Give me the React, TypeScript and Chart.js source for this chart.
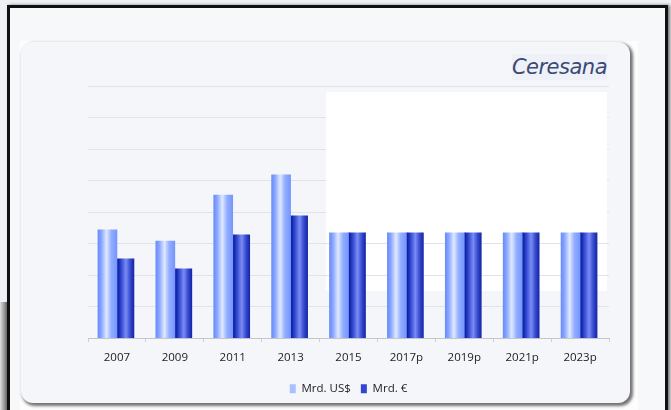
import React, { useEffect, useRef } from "react";
import { Chart, registerables } from "chart.js";

Chart.register(...registerables);

const categories = ["2007", "2009", "2011", "2013", "2015", "2017p", "2019p", "2021p", "2023p"];
const usdValues = [17.2, 15.4, 22.7, 25.9, 16.7, 16.7, 16.7, 16.7, 16.7];
const eurValues = [12.6, 11.0, 16.4, 19.4, 16.7, 16.7, 16.7, 16.7, 16.7];
const seriesLabels = ["Mrd. US$", "Mrd. €"];
const yMax = 40;
const yStep = 5;

const CAT_PCT = 0.68;
const USD_THICK = 19;
const EUR_THICK = 17;

const usdStops: [number, string][] = [
  [0, "#6689fb"],
  [0.2, "#89a6ff"],
  [0.47, "#dfe9ff"],
  [0.72, "#93aeff"],
  [1, "#7797ff"],
];
const eurStops: [number, string][] = [
  [0, "#0f24a8"],
  [0.22, "#3e54d8"],
  [0.45, "#7b8cf4"],
  [0.7, "#364bd0"],
  [1, "#0a1896"],
];

function barGradient(stops: [number, string][], thickness: number, side: number, fallback: string) {
  return (c: any) => {
    const chart = c.chart;
    const xs = chart.scales && chart.scales.x;
    if (!xs || c.type !== "data" || !isFinite(xs.width) || xs.width <= 0) return fallback;
    const center = xs.getPixelForValue(c.dataIndex);
    const catW = xs.width / categories.length;
    const slot = (catW * CAT_PCT) / 2;
    const cx = center + (side < 0 ? -slot / 2 : slot / 2);
    const g = chart.ctx.createLinearGradient(cx - thickness / 2, 0, cx + thickness / 2, 0);
    stops.forEach(([o, col]) => g.addColorStop(o, col));
    return g;
  };
}

const whiteBoxPlugin = {
  id: "whiteBox",
  beforeDraw(chart: any) {
    const ctx = chart.ctx;
    ctx.save();
    ctx.fillStyle = "#ffffff";
    ctx.fillRect(326, 92, 281, 199);
    ctx.restore();
  },
  beforeDatasetsDraw(chart: any) {
    const ctx = chart.ctx;
    ctx.save();
    ctx.fillStyle = "#ffffff";
    ctx.fillRect(326, 92, 281, 146);
    ctx.restore();
  },
};

export default function App() {
  const ref = useRef<HTMLCanvasElement | null>(null);

  useEffect(() => {
    document.body.style.margin = "0";
    const canvas = ref.current;
    if (!canvas) return;
    const chart = new Chart(canvas, {
      type: "bar",
      data: {
        labels: categories,
        datasets: [
          {
            label: seriesLabels[0],
            data: usdValues,
            backgroundColor: barGradient(usdStops, USD_THICK, -1, "#a9c0ff") as any,
            barThickness: USD_THICK,
            borderWidth: 0,
          },
          {
            label: seriesLabels[1],
            data: eurValues,
            backgroundColor: barGradient(eurStops, EUR_THICK, 1, "#3247d0") as any,
            barThickness: EUR_THICK,
            borderWidth: 0,
          },
        ],
      },
      options: {
        responsive: false,
        animation: false,
        events: [],
        datasets: { bar: { categoryPercentage: CAT_PCT, barPercentage: 1 } } as any,
        layout: { padding: { left: 88, right: 62, top: 86, bottom: 5.5 } },
        scales: {
          x: {
            grid: {
              display: true,
              drawOnChartArea: false,
              drawTicks: true,
              tickLength: 4,
              color: "#cfd1d6",
              offset: true,
            },
            border: { display: true, color: "#c4c6cc", width: 1 },
            ticks: {
              color: "#222222",
              padding: 8.5,
              font: { family: "'Open Sans', sans-serif", size: 11.5 },
              maxRotation: 0,
              autoSkip: false,
            },
          },
          y: {
            min: 0,
            max: yMax,
            grid: { color: "#e1e3e9", drawTicks: false, lineWidth: 1 },
            border: { display: false },
            ticks: { display: false, stepSize: yStep },
          },
        },
        plugins: {
          tooltip: { enabled: false },
          title: { display: false },
          legend: {
            display: true,
            position: "bottom",
            labels: {
              boxWidth: 6,
              boxHeight: 9,
              padding: 10,
              color: "#222222",
              font: { family: "'Open Sans', sans-serif", size: 11.5 },
              generateLabels: (ch: any) => {
                const solid = ["#a9c0ff", "#3247d0"];
                return Chart.defaults.plugins.legend.labels.generateLabels(ch).map((l: any, i: number) => ({
                  ...l,
                  fillStyle: solid[i],
                  strokeStyle: solid[i],
                  lineWidth: 0,
                }));
              },
            },
          },
        },
      },
      plugins: [whiteBoxPlugin],
    });
    return () => chart.destroy();
  }, []);

  return (
    <div
      style={{
        position: "relative",
        width: 671,
        height: 410,
        overflow: "hidden",
        background: "#eff0f5",
      }}
    >
      <div
        style={{
          position: "absolute",
          left: 0,
          top: 302,
          width: 8,
          height: 110,
          background: "linear-gradient(to right, #e0e0e0, #5a5a5a)",
        }}
      />
      <div
        style={{
          position: "absolute",
          left: 7,
          top: 5,
          width: 661,
          height: 430,
          boxSizing: "border-box",
          border: "3px solid #101010",
          background: "#f7f8fa",
          boxShadow: "2px 0 3px rgba(0,0,0,0.5)",
        }}
      />
      <div
        style={{
          position: "absolute",
          left: 20,
          top: 41,
          width: 618,
          height: 369,
          background: "#fdfdfe",
        }}
      />
      <div
        style={{
          position: "absolute",
          left: 21,
          top: 42,
          width: 609,
          height: 361,
          borderRadius: 12,
          background: "#f5f6fa",
          boxShadow: "2px 2px 3px 1px rgba(0,0,0,0.55)",
        }}
      />
      <div
        style={{
          position: "absolute",
          right: 671 - 607,
          top: 54,
          fontFamily: "'DejaVu Sans', sans-serif",
          fontStyle: "italic",
          fontSize: 21,
          color: "#3b4a72",
          background: "#eef1f8",
          lineHeight: "26px",
          letterSpacing: -0.5,
        }}
      >
        Ceresana
      </div>
      <canvas
        ref={ref}
        width={671}
        height={410}
        style={{ position: "absolute", left: 0, top: 0, width: 671, height: 410 }}
      />
    </div>
  );
}
